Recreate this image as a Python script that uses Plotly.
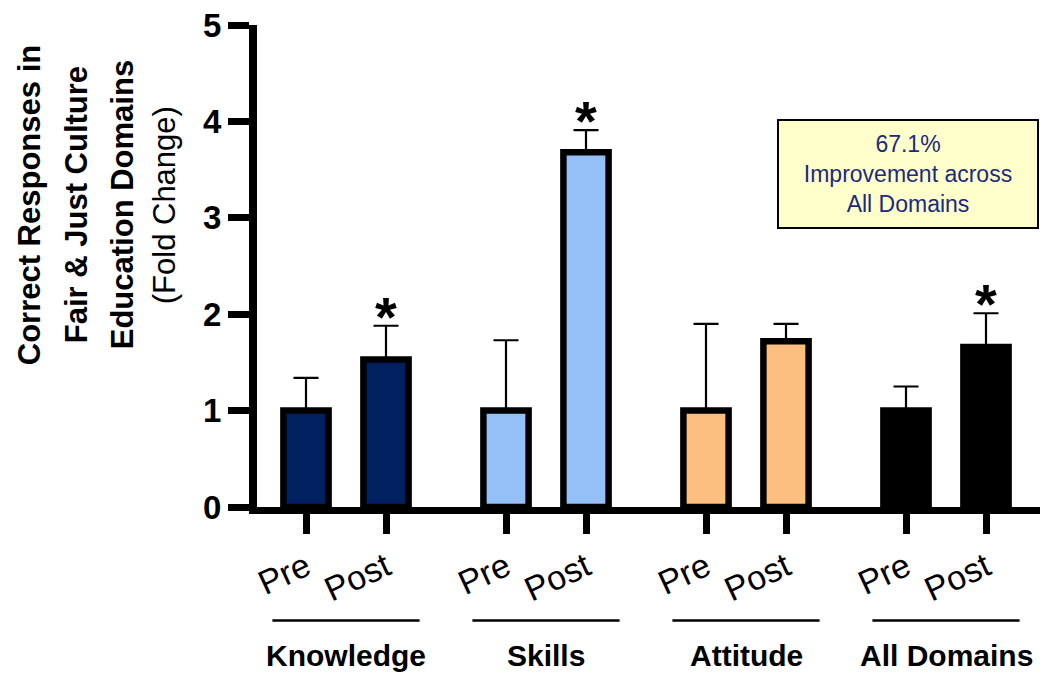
import plotly.graph_objects as go

# ---------------- data ----------------
groups = ["Knowledge", "Skills", "Attitude", "All Domains"]
phases = ["Pre", "Post"]
pre_mean = [1.0, 1.0, 1.0, 1.0]
post_mean = [1.53, 3.68, 1.72, 1.66]
pre_err = [0.34, 0.73, 0.90, 0.25]
post_err = [0.35, 0.23, 0.18, 0.35]
post_signif = [True, True, False, True]
group_colors = ["#002060", "#94C0F7", "#FDBF80", "#000000"]
box_text = "67.1%<br>Improvement across<br>All Domains"
y_title_lines = ["Correct Responses in", "Fair & Just Culture", "Education Domains", "(Fold Change)"]
y_ticks = [0, 1, 2, 3, 4, 5]

# ---------------- layout constants ----------------
W, H = 1047, 674
L, R, T, B = 257, 7, 23, 167
PW, PH = W - L - R, H - T - B
GROUP_STEP = 2.5
FONT = "Arial, Liberation Sans, Helvetica, sans-serif"

def xp(px):
    return (px - L) / PW

def yp(py):
    return (H - B - py) / PH

xs, ys, errs, cols, ticktext = [], [], [], [], []
for g in range(len(groups)):
    for p, (m, e) in enumerate([(pre_mean[g], pre_err[g]), (post_mean[g], post_err[g])]):
        xs.append(g * GROUP_STEP + p)
        ys.append(m)
        errs.append(e)
        cols.append(group_colors[g])
        ticktext.append(phases[p])

fig = go.Figure()
fig.add_trace(go.Bar(
    x=xs, y=ys, width=0.565,
    marker=dict(color=cols, line=dict(color="black", width=6.5)),
    error_y=dict(type="data", symmetric=False, array=errs,
                 arrayminus=[0] * len(errs), color="black", thickness=2.2, width=12.5),
    showlegend=False, hoverinfo="skip",
))

annotations = []
# significance asterisks
for g in range(len(groups)):
    if post_signif[g]:
        annotations.append(dict(
            x=g * GROUP_STEP + 1, y=post_mean[g] + post_err[g], xref="x", yref="y",
            text="*", showarrow=False, yanchor="bottom", yshift=-24,
            font=dict(family=FONT, size=56, color="black", weight="bold"),
        ))

# group labels and underline
shapes = []
for g, name in enumerate(groups):
    c = g * GROUP_STEP + 0.5
    shapes.append(dict(type="line", xref="x", yref="paper",
                       x0=c - 0.92, x1=c + 0.92, y0=yp(621), y1=yp(621),
                       line=dict(color="black", width=2.5)))
    annotations.append(dict(
        x=c, y=yp(656), xref="x", yref="paper", text=name, showarrow=False,
        xanchor="center", yanchor="middle",
        font=dict(family=FONT, size=30, color="black", weight="bold"),
    ))

# improvement box
annotations.append(dict(
    x=xp(908), y=yp(173), xref="paper", yref="paper", text=box_text, showarrow=False,
    xanchor="center", yanchor="middle", align="center",
    bgcolor="#FFFFCC", bordercolor="black", borderwidth=2, borderpad=0,
    width=258, height=106,
    font=dict(family=FONT, size=23, color="#1C2A7E"),
))

# y-axis title (multi-line, rotated)
title_x = [29, 76, 122, 164]
for i, line in enumerate(y_title_lines):
    annotations.append(dict(
        x=xp(title_x[i]), y=yp(204), xref="paper", yref="paper", text=line,
        showarrow=False, textangle=-90, xanchor="center", yanchor="middle",
        font=dict(family=FONT, size=31, color="black",
                  weight="normal" if line.startswith("(") else "bold"),
    ))

fig.update_layout(
    width=W, height=H,
    margin=dict(l=L, r=R, t=T, b=B, pad=0),
    plot_bgcolor="white", paper_bgcolor="white",
    annotations=annotations, shapes=shapes,
    xaxis=dict(
        range=[(L - 306) / 80, (W - R - 306) / 80],
        tickmode="array", tickvals=xs, ticktext=ticktext,
        tickangle=-25, ticks="outside", ticklen=20, tickwidth=7, tickcolor="black",
        tickfont=dict(family=FONT, size=34, color="black"),
        showline=True, linecolor="black", linewidth=7,
        showgrid=False, zeroline=False, fixedrange=True,
    ),
    yaxis=dict(
        range=[0, 5], tickmode="array", tickvals=y_ticks,
        ticks="outside", ticklen=21, tickwidth=7, tickcolor="black",
        tickfont=dict(family=FONT, size=33, color="black", weight="bold"),
        showline=True, linecolor="black", linewidth=8,
        showgrid=False, zeroline=False, fixedrange=True,
    ),
)

fig.write_html("out.html", config={"displayModeBar": False},
               post_script="document.body.style.margin='0';")
